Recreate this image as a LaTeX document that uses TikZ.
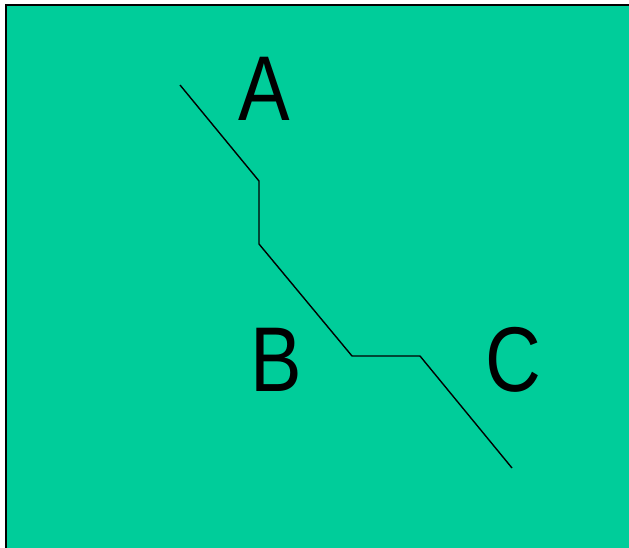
\documentclass[tikz,border=0pt]{standalone}
\usepackage{fontspec}
\setmainfont{Liberation Sans}
\definecolor{panelgreen}{RGB}{0,205,154}
\tikzset{
  letter/.style={inner sep=0pt, anchor=base, xscale=0.84,
    font=\fontsize{92}{92}\selectfont},
  trace/.style={draw=black, line width=1.4pt, line join=miter},
  panel/.style={fill=panelgreen, draw=black, line width=2.2pt}
}
\begin{document}
\begin{tikzpicture}[x=1pt, y=-1pt]
  \useasboundingbox (0,0) rectangle (629,548);
  \fill[white] (0,0) rectangle (629,548);
  \path[panel] (6,5) rectangle (640,560);
  % bend points of the trace
  \coordinate (p1) at (180,85);
  \coordinate (p2) at (259,181);
  \coordinate (p3) at (259,244);
  \coordinate (p4) at (352,356);
  \coordinate (p5) at (420,356);
  \coordinate (p6) at (512,468);
  \path[trace] (p1) -- (p2) -- (p3) -- (p4) -- (p5) -- (p6);
  \node[letter] (A) at (264,121) {A};
  \node[letter] (B) at (276.5,391) {B};
  \node[letter] (C) at (513,391) {C};
\end{tikzpicture}
\end{document}
